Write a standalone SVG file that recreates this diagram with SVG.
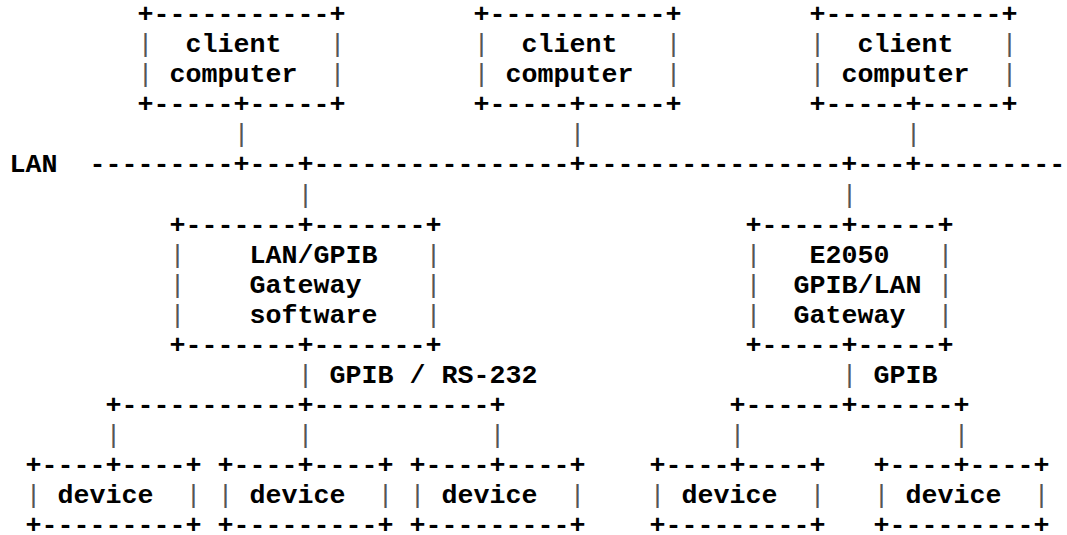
<svg xmlns="http://www.w3.org/2000/svg" width="1067" height="535" viewBox="0 0 1067 535">
<style>
text{font-family:"Liberation Mono","Courier New",monospace;font-size:26.667px;font-weight:bold;fill:#000;white-space:pre}
.p{font-weight:normal;fill:#555}
</style>
<rect width="1067" height="535" fill="#fff"/>
<g id="client1">
<text x="137.5" y="22.2">+-----------+</text>
<text class="p" x="137.5" y="52.25">|</text><text x="185.5" y="52.25">client</text><text class="p" x="329.5" y="52.25">|</text>
<text class="p" x="137.5" y="82.3">|</text><text x="169.5" y="82.3">computer</text><text class="p" x="329.5" y="82.3">|</text>
<text x="137.5" y="112.35">+-----+-----+</text>
</g>
<g id="client2">
<text x="473.5" y="22.2">+-----------+</text>
<text class="p" x="473.5" y="52.25">|</text><text x="521.5" y="52.25">client</text><text class="p" x="665.5" y="52.25">|</text>
<text class="p" x="473.5" y="82.3">|</text><text x="505.5" y="82.3">computer</text><text class="p" x="665.5" y="82.3">|</text>
<text x="473.5" y="112.35">+-----+-----+</text>
</g>
<g id="client3">
<text x="809.5" y="22.2">+-----------+</text>
<text class="p" x="809.5" y="52.25">|</text><text x="857.5" y="52.25">client</text><text class="p" x="1001.5" y="52.25">|</text>
<text class="p" x="809.5" y="82.3">|</text><text x="841.5" y="82.3">computer</text><text class="p" x="1001.5" y="82.3">|</text>
<text x="809.5" y="112.35">+-----+-----+</text>
</g>
<g id="lan-gpib-gateway">
<text x="169.5" y="232.55">+-------+-------+</text>
<text class="p" x="169.5" y="262.6">|</text><text x="249.5" y="262.6">LAN/GPIB</text><text class="p" x="425.5" y="262.6">|</text>
<text class="p" x="169.5" y="292.65">|</text><text x="249.5" y="292.65">Gateway</text><text class="p" x="425.5" y="292.65">|</text>
<text class="p" x="169.5" y="322.7">|</text><text x="249.5" y="322.7">software</text><text class="p" x="425.5" y="322.7">|</text>
<text x="169.5" y="352.75">+-------+-------+</text>
</g>
<g id="e2050-gateway">
<text x="745.5" y="232.55">+-----+-----+</text>
<text class="p" x="745.5" y="262.6">|</text><text x="809.5" y="262.6">E2050</text><text class="p" x="937.5" y="262.6">|</text>
<text class="p" x="745.5" y="292.65">|</text><text x="793.5" y="292.65">GPIB/LAN</text><text class="p" x="937.5" y="292.65">|</text>
<text class="p" x="745.5" y="322.7">|</text><text x="793.5" y="322.7">Gateway</text><text class="p" x="937.5" y="322.7">|</text>
<text x="745.5" y="352.75">+-----+-----+</text>
</g>
<g id="device1">
<text x="25.5" y="472.95">+----+----+</text>
<text class="p" x="25.5" y="503">|</text><text x="57.5" y="503">device</text><text class="p" x="185.5" y="503">|</text>
<text x="25.5" y="533.05">+---------+</text>
</g>
<g id="device2">
<text x="217.5" y="472.95">+----+----+</text>
<text class="p" x="217.5" y="503">|</text><text x="249.5" y="503">device</text><text class="p" x="377.5" y="503">|</text>
<text x="217.5" y="533.05">+---------+</text>
</g>
<g id="device3">
<text x="409.5" y="472.95">+----+----+</text>
<text class="p" x="409.5" y="503">|</text><text x="441.5" y="503">device</text><text class="p" x="569.5" y="503">|</text>
<text x="409.5" y="533.05">+---------+</text>
</g>
<g id="device4">
<text x="649.5" y="472.95">+----+----+</text>
<text class="p" x="649.5" y="503">|</text><text x="681.5" y="503">device</text><text class="p" x="809.5" y="503">|</text>
<text x="649.5" y="533.05">+---------+</text>
</g>
<g id="device5">
<text x="873.5" y="472.95">+----+----+</text>
<text class="p" x="873.5" y="503">|</text><text x="905.5" y="503">device</text><text class="p" x="1033.5" y="503">|</text>
<text x="873.5" y="533.05">+---------+</text>
</g>
<g id="connectors">
<text class="p" x="233.5" y="142.4">|</text>
<text class="p" x="569.5" y="142.4">|</text>
<text class="p" x="905.5" y="142.4">|</text>
<text x="9.5" y="172.45">LAN</text>
<text x="89.5" y="172.45">---------+---+----------------+----------------+---+---------</text>
<text class="p" x="297.5" y="202.5">|</text>
<text class="p" x="841.5" y="202.5">|</text>
<text class="p" x="297.5" y="382.8">|</text><text x="329.5" y="382.8">GPIB / RS-232</text>
<text class="p" x="841.5" y="382.8">|</text><text x="873.5" y="382.8">GPIB</text>
<text x="105.5" y="412.85">+-----------+-----------+</text>
<text x="729.5" y="412.85">+------+------+</text>
<text class="p" x="105.5" y="442.9">|</text>
<text class="p" x="297.5" y="442.9">|</text>
<text class="p" x="489.5" y="442.9">|</text>
<text class="p" x="729.5" y="442.9">|</text>
<text class="p" x="953.5" y="442.9">|</text>
</g>
</svg>
